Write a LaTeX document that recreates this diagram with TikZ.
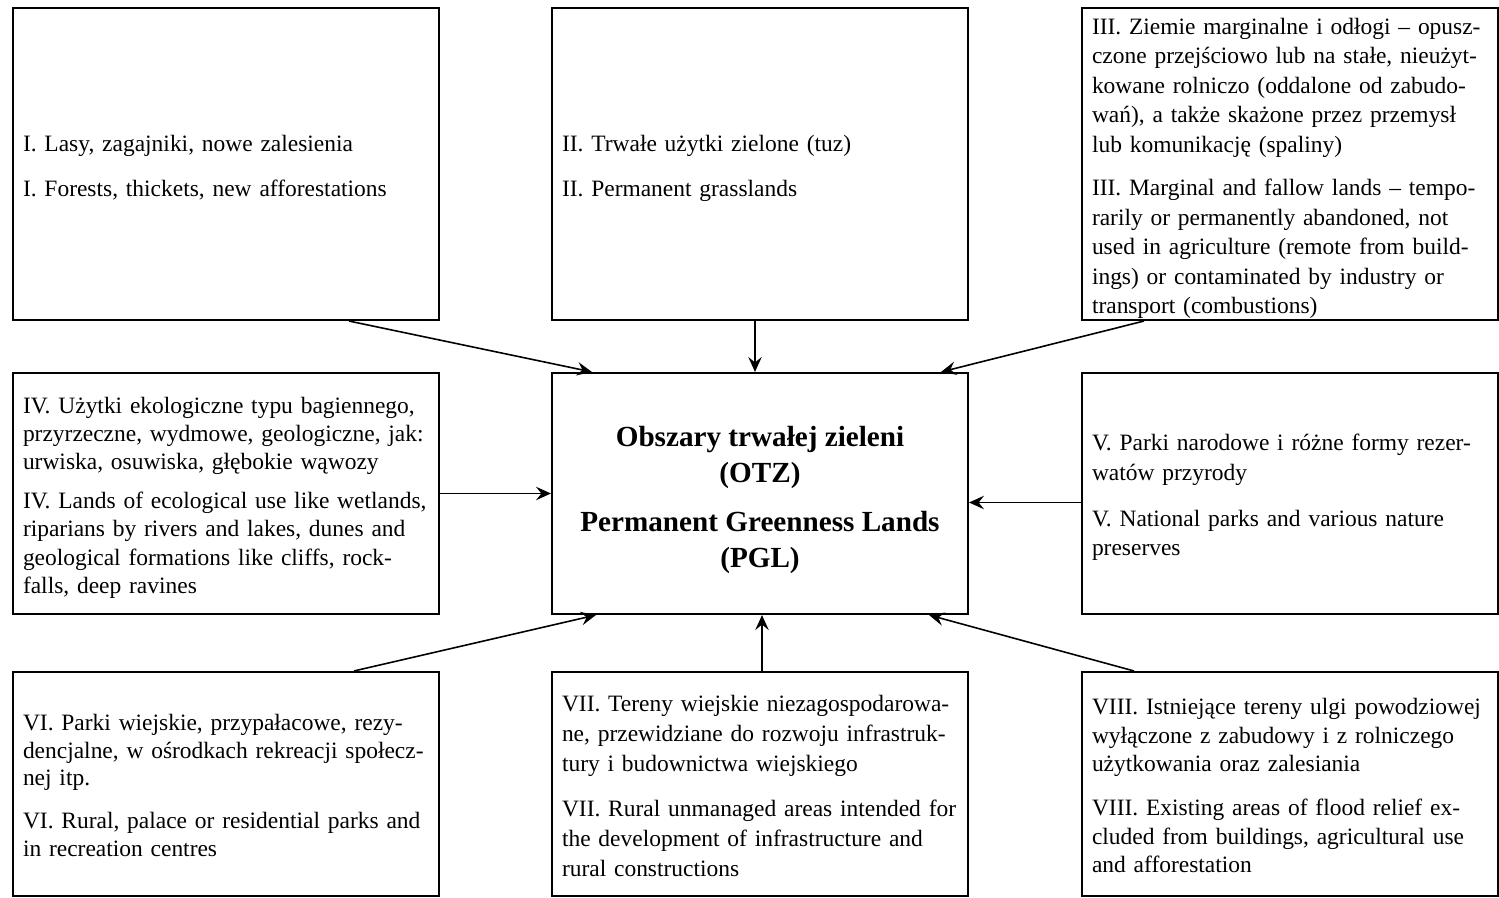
\documentclass[tikz,border=0pt]{standalone}
\usepackage{fontspec}
\setmainfont{Liberation Serif}
\usetikzlibrary{arrows.meta}
\newcommand{\lines}[1]{\raisebox{-0.08cm}[\height][\depth]{\begin{tabular}{@{}l@{}}#1\end{tabular}}}

\begin{document}
\begin{tikzpicture}[every node/.style={font=\fontsize{13.35}{16.9}\selectfont},
  box/.style={draw,line width=1.2pt,minimum width=8.32cm,inner xsep=0.2cm,inner ysep=0pt,text width=7.92cm,align=left},
  wide/.style={minimum width=8.52cm,text width=8.12cm},
  arr/.style={-{Stealth[length=0.3cm,width=0.27cm,inset=0.11cm]},line width=0.9pt}]
  \useasboundingbox (0,0) rectangle (29.98,17.94);
  \node[box,wide,minimum height=6.24cm] (i) at (4.52,14.66) {\lines{I. Lasy, zagajniki, nowe zalesienia\\[9pt]I. Forests, thickets, new afforestations}};
  \node[box,minimum height=6.24cm] (ii) at (15.2,14.66) {\lines{II. Trwałe użytki zielone (tuz)\\[9pt]II. Permanent grasslands}};
  \node[box,minimum height=6.24cm,font=\fontsize{13.35}{16.8}\selectfont] (iii) at (25.8,14.66) {\lines{III. Ziemie marginalne i odłogi – opusz-\\czone przejściowo lub na stałe, nieużyt-\\kowane rolniczo (oddalone od zabudo-\\wań), a także skażone przez przemysł\\lub komunikację (spaliny)\\[8pt]III. Marginal and fallow lands – tempo-\\rarily or permanently abandoned, not\\used in agriculture (remote from build-\\ings) or contaminated by industry or\\transport (combustions)}};
  \node[box,wide,minimum height=4.82cm,font=\fontsize{13.35}{16.1}\selectfont] (iv) at (4.52,8.07) {\lines{IV. Użytki ekologiczne typu bagiennego,\\przyrzeczne, wydmowe, geologiczne, jak:\\urwiska, osuwiska, głębokie wąwozy\\[6pt]IV. Lands of ecological use like wetlands,\\riparians by rivers and lakes, dunes and\\geological formations like cliffs, rock-\\falls, deep ravines}};
  \node[draw,line width=1.2pt,minimum width=8.32cm,minimum height=4.82cm,align=center,font=\fontsize{16.6}{20.5}\selectfont\bfseries] (c) at (15.2,8.07) {\rule{0pt}{19pt}Obszary trwałej zieleni\\(OTZ)\\[7.5pt]Permanent Greenness Lands\\(PGL)};
  \node[box,minimum height=4.82cm] (v) at (25.8,8.07) {\lines{V. Parki narodowe i różne formy rezer-\\watów przyrody\\[9pt]V. National parks and various nature\\preserves}};
  \node[box,wide,minimum height=4.48cm,font=\fontsize{13.35}{15.6}\selectfont] (vi) at (4.52,2.26) {\lines{VI. Parki wiejskie, przypałacowe, rezy-\\dencjalne, w ośrodkach rekreacji społecz-\\nej itp.\\[9pt]VI. Rural, palace or residential parks and\\in recreation centres}};
  \node[box,minimum height=4.48cm] (vii) at (15.2,2.26) {\lines{VII. Tereny wiejskie niezagospodarowa-\\ne, przewidziane do rozwoju infrastruk-\\tury i budownictwa wiejskiego\\[9pt]VII. Rural unmanaged areas intended for\\the development of infrastructure and\\rural constructions}};
  \node[box,minimum height=4.48cm,font=\fontsize{13.35}{16.2}\selectfont] (viii) at (25.8,2.26) {\lines{VIII. Istniejące tereny ulgi powodziowej\\wyłączone z zabudowy i z rolniczego\\użytkowania oraz zalesiania\\[9pt]VIII. Existing areas of flood relief ex-\\cluded from buildings, agricultural use\\and afforestation}};
  \draw[arr] ([xshift=-1.82cm]i.south east) -- ([xshift=0.82cm]c.north west);
  \draw[arr] ([xshift=-0.1cm]ii.south) -- ([xshift=-0.1cm]c.north);
  \draw[arr] ([xshift=1.26cm]iii.south west) -- ([xshift=-0.56cm]c.north east);
  \draw[arr] (iv.east) -- (c.west);
  \draw[arr] ([yshift=-0.18cm]v.west) -- ([yshift=-0.18cm]c.east);
  \draw[arr] ([xshift=-1.72cm]vi.north east) -- ([xshift=0.9cm]c.south west);
  \draw[arr] ([xshift=0.04cm]vii.north) -- ([xshift=0.04cm]c.south);
  \draw[arr] ([xshift=1.06cm]viii.north west) -- ([xshift=-0.8cm]c.south east);
\end{tikzpicture}
\end{document}
